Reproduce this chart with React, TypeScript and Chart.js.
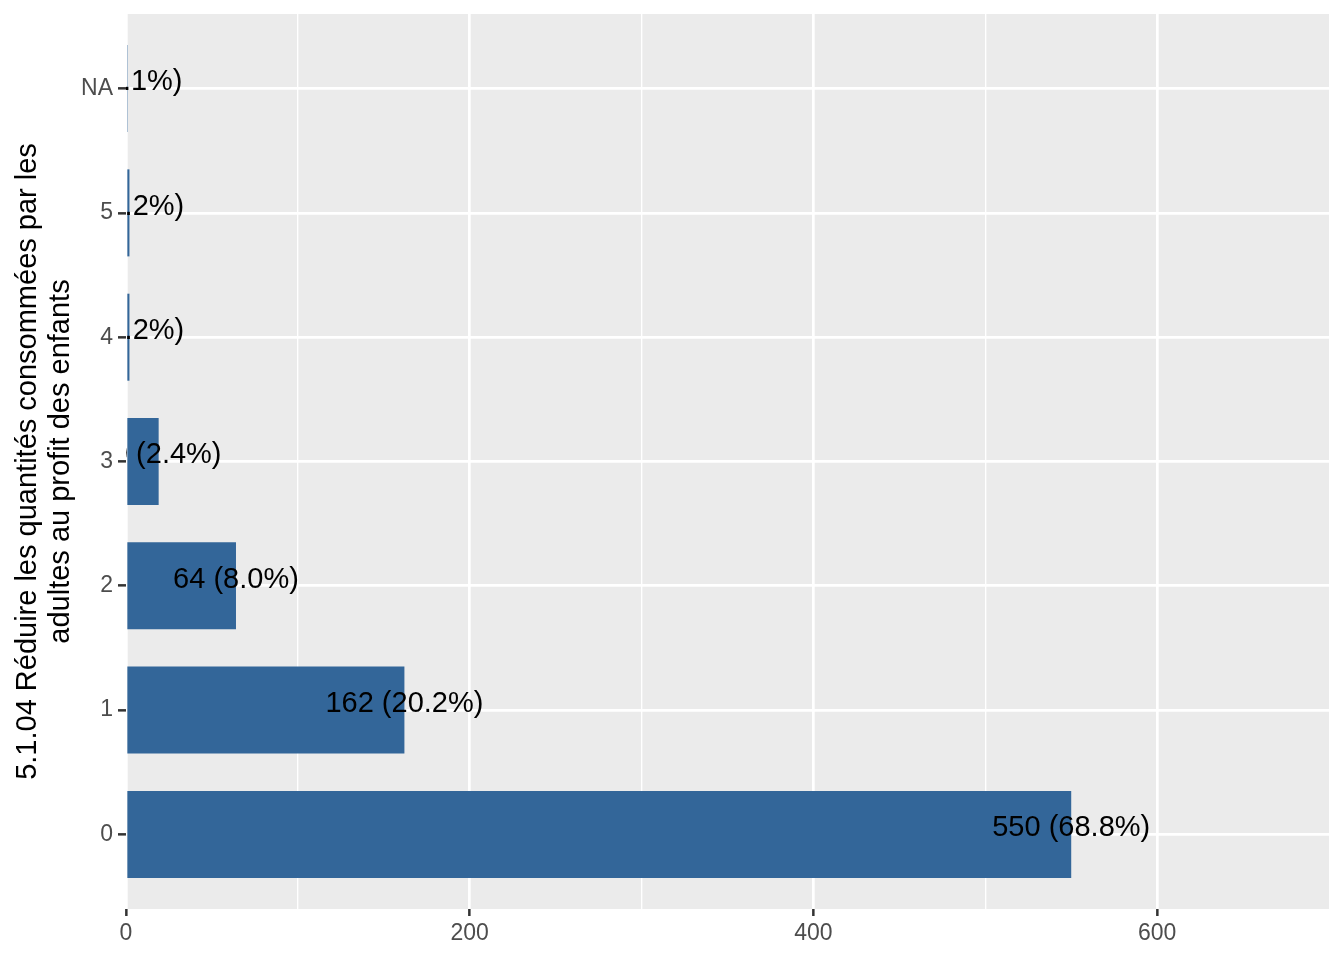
import React, { useEffect, useRef } from "react";
import { Chart, registerables } from "chart.js";

Chart.register(...registerables);

const categories = ["0", "1", "2", "3", "4", "5", "NA"];
const counts = [550, 162, 64, 19, 2, 2, 1];
const percentLabels = ["68.8%", "20.2%", "8.0%", "2.4%", "0.2%", "0.2%", "0.1%"];
const xMajorStep = 200;
const xMinorStep = 100;
const xMax = 700;
const yTitle = ["5.1.04 Réduire les quantités consommées par les", "adultes au profit des enfants"];

const FONT = "'Liberation Sans', Arial, sans-serif";

const panelBg = {
  id: "panelBg",
  beforeDraw(chart: any) {
    const { ctx, chartArea: a } = chart;
    ctx.save();
    ctx.fillStyle = "#EBEBEB";
    ctx.fillRect(a.left, a.top, a.right - a.left, a.bottom - a.top);
    ctx.restore();
  },
};

const barLabels = {
  id: "barLabels",
  afterDatasetsDraw(chart: any) {
    const { ctx, chartArea: a } = chart;
    const meta = chart.getDatasetMeta(0);
    ctx.save();
    ctx.beginPath();
    ctx.rect(a.left, a.top, a.right - a.left, a.bottom - a.top);
    ctx.clip();
    ctx.font = `29px ${FONT}`;
    ctx.fillStyle = "#000000";
    ctx.textAlign = "center";
    ctx.textBaseline = "alphabetic";
    meta.data.forEach((el: any, i: number) => {
      const text = `${counts[i]} (${percentLabels[i]})`;
      ctx.fillText(text, el.x, el.y + 1.7);
    });
    ctx.restore();
  },
};

export default function App() {
  const ref = useRef<HTMLCanvasElement | null>(null);

  useEffect(() => {
    if (!ref.current) return;
    const chart = new Chart(ref.current, {
      type: "bar",
      data: {
        datasets: [
          {
            data: counts.map((v, i) => ({ x: v, y: i })) as any,
            backgroundColor: "#336699",
            borderWidth: 0,
            barPercentage: 0.7,
            categoryPercentage: 1,
          },
        ],
      },
      options: {
        indexAxis: "y",
        responsive: false,
        animation: false,
        devicePixelRatio: 1,
        layout: { padding: { top: 14, right: 15, bottom: 0, left: 0 } },
        plugins: {
          legend: { display: false },
          tooltip: { enabled: false },
        },
        scales: {
          x: {
            type: "linear",
            min: 0,
            max: xMax,
            bounds: "data",
            offset: false,
            border: { display: false },
            grid: {
              offset: false,
              color: (c: any) => (c.tick && c.tick.value < xMax ? "#FFFFFF" : "rgba(0,0,0,0)"),
              lineWidth: (c: any) => (c.tick && c.tick.value % xMajorStep === 0 ? 2.7 : 1.35),
              tickColor: (c: any) => (c.tick && c.tick.value % xMajorStep === 0 ? "#333333" : "rgba(0,0,0,0)"),
              tickWidth: 2.5,
              tickLength: 7,
            },
            ticks: {
              stepSize: xMinorStep,
              autoSkip: false,
              maxRotation: 0,
              padding: 3.5,
              color: "#4D4D4D",
              font: { family: FONT, size: 23 },
              callback: (v: any) => (Number(v) % xMajorStep === 0 ? String(v) : ""),
            },
            afterFit: (s: any) => {
              s.height = 51;
              s.paddingLeft = 0;
              s.paddingRight = 0;
            },
          },
          y: {
            type: "linear",
            min: -0.6,
            max: categories.length - 1 + 0.6,
            bounds: "data",
            offset: false,
            border: { display: false },
            grid: {
              offset: false,
              color: "#FFFFFF",
              lineWidth: 2.7,
              tickColor: "#333333",
              tickWidth: 2.5,
              tickLength: 8,
            },
            afterBuildTicks: (s: any) => {
              s.ticks = categories.map((_, i) => ({ value: i }));
            },
            ticks: {
              autoSkip: false,
              padding: 5,
              color: "#4D4D4D",
              font: { family: FONT, size: 23 },
              callback: (v: any) => categories[Math.round(Number(v))] ?? "",
            },
            title: {
              display: true,
              text: yTitle,
              color: "#000000",
              font: { family: FONT, size: 29, lineHeight: 1.15 },
              padding: { top: 11, bottom: 0 },
            },
            afterFit: (s: any) => {
              s.width = 126;
              s.paddingTop = 0;
              s.paddingBottom = 0;
            },
          },
        },
      },
      plugins: [panelBg, barLabels],
    });
    return () => chart.destroy();
  }, []);

  return (
    <div style={{ position: "absolute", left: 0, top: 0, width: 1344, height: 960, background: "#FFFFFF" }}>
      <canvas ref={ref} width={1344} height={960} style={{ display: "block" }} />
    </div>
  );
}
